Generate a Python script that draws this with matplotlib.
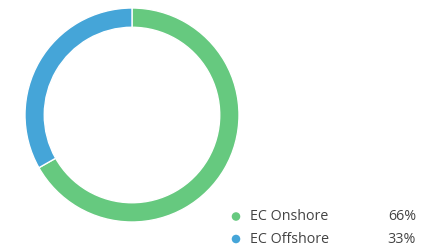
import matplotlib.pyplot as plt

labels = ["EC Onshore", "EC Offshore"]
values = [66.8, 33.2]
pct_labels = ["66%", "33%"]
colors = ["#66c97f", "#45a5d8"]

W, H = 421, 247
fig = plt.figure(figsize=(W / 100, H / 100), dpi=100)
fig.patch.set_facecolor("white")

# donut
ax = fig.add_axes([25 / W, (H - 222) / H, 214 / W, 214 / H])
ax.pie(values, colors=colors, startangle=90, counterclock=False, radius=1,
       wedgeprops=dict(width=0.18, edgecolor="white", linewidth=1))
ax.set_xlim(-1, 1)
ax.set_ylim(-1, 1)
ax.set_aspect("equal")
ax.axis("off")

# legend drawn in pixel coords
lg = fig.add_axes([0, 0, 1, 1])
lg.set_xlim(0, W)
lg.set_ylim(H, 0)
lg.axis("off")
ys = [216.5, 239]
for lab, pct, c, y in zip(labels, pct_labels, colors, ys):
    lg.scatter([236], [y], s=38, color=c, edgecolors="none")
    lg.text(250, y, lab, fontsize=10.3, color="#444444", va="center", ha="left", family="Open Sans")
    lg.text(416, y, pct, fontsize=10.3, color="#444444", va="center", ha="right", family="Open Sans")

fig.savefig("out.png", dpi=100)
